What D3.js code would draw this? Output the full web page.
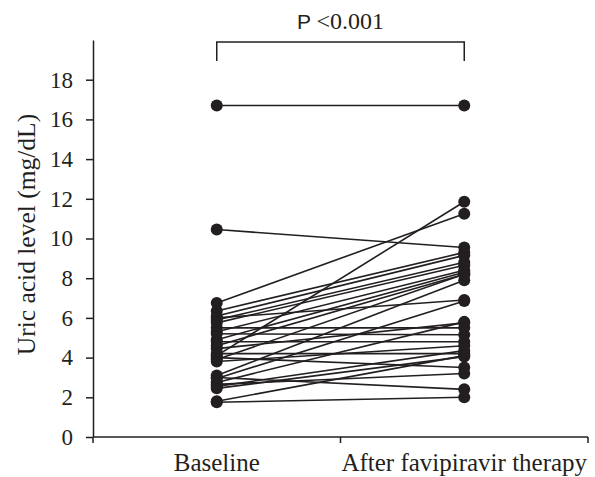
<!DOCTYPE html>
<html lang="en">
<head>
  <meta charset="UTF-8">
  <title>Uric acid level before and after favipiravir</title>
  <script src="https://d3js.org/d3.v7.min.js"></script>
  <style>
    body { margin: 0; background: #fff; }
    svg { display: block; }
    text { font-family: "Liberation Serif", "Times New Roman", serif; fill: #231f20; }
  </style>
</head>
<body>
  <div id="chart"></div>
  <script>
    // Groups and paired values (mg/dL)
    const groups = ["Baseline", "After favipiravir therapy"];
    const baseline = [16.7, 10.45, 6.75, 4.1, 6.35, 6.1, 5.9, 6.0, 5.75, 5.5, 5.3, 5.2, 4.9, 4.8,
                      4.6, 4.45, 4.2, 4.0, 3.8, 3.1, 2.95, 2.75, 2.55, 2.45, 2.65, 3.0, 1.8, 1.75, 3.9];
    const after    = [16.7, 9.55, 11.25, 11.85, 9.3, 9.15, 8.8, 6.9, 8.65, 5.5, 8.4, 5.15, 8.3, 4.8,
                      8.2, 5.75, 4.2, 3.5, 4.6, 7.9, 6.85, 5.8, 4.35, 4.05, 3.2, 2.4, 4.1, 2.0, 8.2];
    const yTicks = [0, 2, 4, 6, 8, 10, 12, 14, 16, 18];
    const pLabel = "P";
    const pValue = "<0.001";

    const width = 595, height = 477;
    const ink = "#231f20";

    const svg = d3.select("#chart").append("svg")
      .attr("width", width).attr("height", height);

    const x = d3.scaleBand().domain(groups).range([93, 588]);
    const y = d3.scaleLinear().domain([0, 20]).range([437, 40]);
    const cx = g => x(g) + x.bandwidth() / 2;

    // y axis
    const yAxis = svg.append("g")
      .attr("transform", `translate(${x.range()[0]},0)`)
      .call(d3.axisLeft(y).tickValues(yTicks).tickSize(7).tickPadding(13).tickSizeOuter(0));
    yAxis.select(".domain").attr("stroke", ink).attr("stroke-width", 1.5);
    yAxis.selectAll(".tick line").attr("stroke", ink).attr("stroke-width", 1.5);
    yAxis.selectAll(".tick text")
      .attr("font-family", "Liberation Serif").attr("font-size", 23).attr("fill", ink);

    // x axis: ticks at band boundaries
    const xAxis = svg.append("g")
      .attr("transform", `translate(0,${y(0)})`);
    xAxis.append("line")
      .attr("x1", x.range()[0]).attr("x2", x.range()[1])
      .attr("stroke", ink).attr("stroke-width", 1.5);
    const bounds = [x(groups[0]), x(groups[1]), x.range()[1]];
    xAxis.selectAll(".bt").data(bounds).join("line")
      .attr("x1", d => d).attr("x2", d => d)
      .attr("y1", 0).attr("y2", 6)
      .attr("stroke", ink).attr("stroke-width", 1.5);
    xAxis.selectAll(".cat").data(groups).join("text")
      .attr("x", d => cx(d)).attr("y", 34)
      .attr("text-anchor", "middle").attr("font-size", 25)
      .text(d => d);

    // y axis title
    svg.append("text")
      .attr("transform", `translate(35,${y(10.2)}) rotate(-90)`)
      .attr("text-anchor", "middle").attr("font-size", 25.5)
      .text("Uric acid level (mg/dL)");

    // paired lines
    const pairs = baseline.map((b, i) => [b, after[i]]);
    svg.append("g").selectAll("line").data(pairs).join("line")
      .attr("x1", cx(groups[0])).attr("x2", cx(groups[1]))
      .attr("y1", d => y(d[0])).attr("y2", d => y(d[1]))
      .attr("stroke", ink).attr("stroke-width", 1.6);

    // points
    const pts = svg.append("g");
    pts.selectAll(".b").data(baseline).join("circle")
      .attr("cx", cx(groups[0])).attr("cy", d => y(d)).attr("r", 6).attr("fill", ink);
    pts.selectAll(".a").data(after).join("circle")
      .attr("cx", cx(groups[1])).attr("cy", d => y(d)).attr("r", 6).attr("fill", ink);

    // significance bracket
    const bx1 = cx(groups[0]), bx2 = cx(groups[1]);
    svg.append("path")
      .attr("d", `M${bx1},${61}V${42}H${bx2}V${61}`)
      .attr("fill", "none").attr("stroke", ink).attr("stroke-width", 1.5);
    const pt = svg.append("text")
      .attr("x", (bx1 + bx2) / 2).attr("y", 29)
      .attr("text-anchor", "middle").attr("font-size", 24);
    pt.append("tspan").attr("font-family", "Liberation Sans").attr("font-size", 21).text(pLabel + " ");
    pt.append("tspan").text(pValue);
  </script>
</body>
</html>
